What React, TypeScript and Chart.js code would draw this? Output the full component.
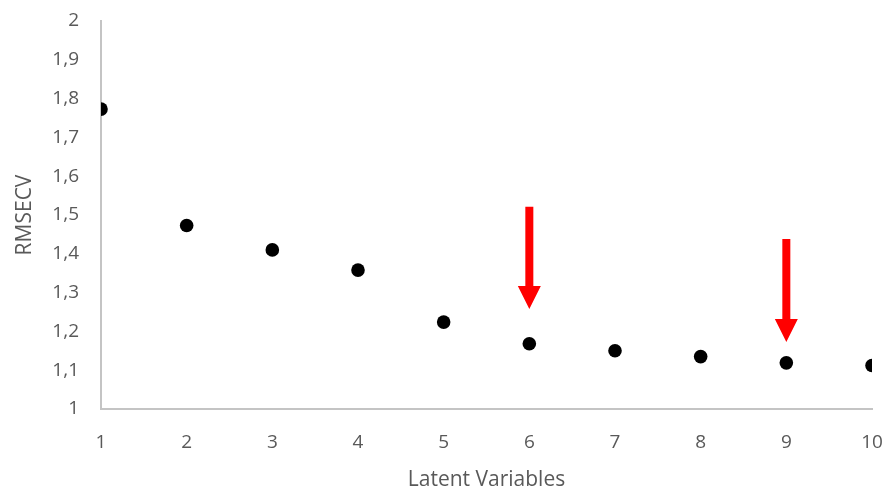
import React, { useEffect, useRef } from "react";
import { Chart, registerables } from "chart.js";

Chart.register(...registerables);

const latentVariables = [1, 2, 3, 4, 5, 6, 7, 8, 9, 10];
const rmsecv = [1.773, 1.473, 1.41, 1.358, 1.224, 1.168, 1.15, 1.135, 1.119, 1.112];
const arrowX = [6, 9];
const arrowTop = [1.521, 1.438];
const arrowTip = [1.258, 1.173];

const TEXT = "#595959";
const AXIS = "#c4c4c4";
const FONT = "'Open Sans', 'Noto Sans', sans-serif";

const arrowPlugin = {
  id: "arrows",
  afterDatasetsDraw(chart: any) {
    const { ctx, scales } = chart;
    const xs = scales.x;
    const ys = scales.y;
    ctx.save();
    ctx.fillStyle = "#ff0000";
    for (let i = 0; i < arrowX.length; i++) {
      const px = xs.getPixelForValue(arrowX[i]);
      const top = ys.getPixelForValue(arrowTop[i]);
      const tip = ys.getPixelForValue(arrowTip[i]);
      const headLen = 23;
      const headHalf = 11.5;
      const shaftHalf = 4;
      ctx.beginPath();
      ctx.moveTo(px - shaftHalf, top);
      ctx.lineTo(px + shaftHalf, top);
      ctx.lineTo(px + shaftHalf, tip - headLen);
      ctx.lineTo(px + headHalf, tip - headLen);
      ctx.lineTo(px, tip);
      ctx.lineTo(px - headHalf, tip - headLen);
      ctx.lineTo(px - shaftHalf, tip - headLen);
      ctx.closePath();
      ctx.fill();
    }
    ctx.restore();
  },
};

function fmt(v: number) {
  const r = Math.round(v * 10) / 10;
  if (Number.isInteger(r)) return String(r);
  return r.toFixed(1).replace(".", ",");
}

export default function App() {
  const ref = useRef<HTMLCanvasElement | null>(null);
  useEffect(() => {
    document.body.style.margin = "0";
    const c = ref.current!;
    const chart = new Chart(c, {
      type: "scatter",
      data: {
        datasets: [
          {
            data: latentVariables.map((x, i) => ({ x, y: rmsecv[i] })),
            backgroundColor: "#000000",
            borderColor: "#000000",
            borderWidth: 0,
            pointRadius: 6.8,
            pointHoverRadius: 6.8,
          },
        ],
      },
      options: {
        animation: false,
        responsive: false,
        events: [],
        layout: { padding: { top: 21, right: 15, left: 0, bottom: 0 } },
        plugins: { legend: { display: false }, tooltip: { enabled: false } },
        scales: {
          x: {
            type: "linear",
            min: 1,
            max: 10,
            grid: { display: false, drawTicks: false },
            border: { display: true, color: AXIS, width: 2 },
            ticks: {
              stepSize: 1,
              color: TEXT,
              font: { family: FONT, size: 19 },
              padding: 22,
              callback: (v: any) => fmt(Number(v)),
            },
            title: {
              display: true,
              text: "Latent Variables",
              color: TEXT,
              font: { family: FONT, size: 21 },
              padding: { top: 0, bottom: -3 },
            },
            afterFit: (s: any) => {
              s.height = 81;
              s.paddingLeft = 0;
              s.paddingRight = 0;
            },
          },
          y: {
            type: "linear",
            min: 1,
            max: 2,
            grid: { display: false, drawTicks: false },
            border: { display: true, color: AXIS, width: 2 },
            ticks: {
              stepSize: 0.1,
              color: TEXT,
              font: { family: FONT, size: 19 },
              padding: 22,
              callback: (v: any) => fmt(Number(v)),
            },
            title: {
              display: true,
              text: "RMSECV",
              color: TEXT,
              font: { family: FONT, size: 21 },
              padding: { top: 12, bottom: 0 },
            },
            afterFit: (s: any) => {
              s.width = 101;
              s.paddingTop = 0;
              s.paddingBottom = 0;
            },
          },
        },
      },
      plugins: [arrowPlugin],
    });
    return () => chart.destroy();
  }, []);
  return (
    <div style={{ position: "absolute", left: 0, top: 0, width: 887, height: 490, background: "#fff" }}>
      <canvas ref={ref} width={887} height={490} style={{ width: 887, height: 490 }} />
    </div>
  );
}
